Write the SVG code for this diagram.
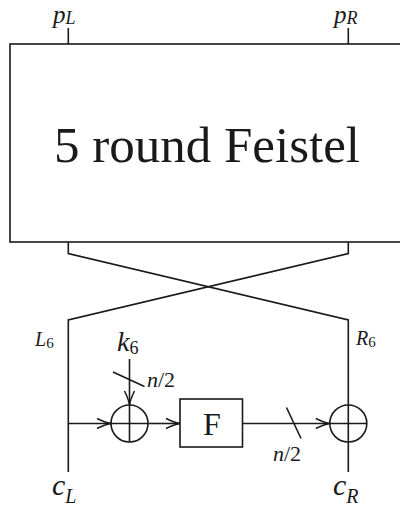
<svg xmlns="http://www.w3.org/2000/svg" width="400" height="508" viewBox="0 0 400 508">
<style>
.ln{stroke:#1a1a1a;stroke-width:1.6;fill:none;stroke-linecap:butt;stroke-linejoin:miter}
text{font-family:"Liberation Serif","Times New Roman","DejaVu Serif",serif;fill:#1a1a1a}
.mi{font-style:italic}
.up{font-style:normal}
</style>
<defs>
<marker id="ah" markerUnits="userSpaceOnUse" markerWidth="20" markerHeight="20" refX="0" refY="0" orient="auto" overflow="visible">
<path d="M -14 -5 Q -6 -1 0 0 Q -6 1 -14 5" fill="none" stroke="#1a1a1a" stroke-width="1.5"/>
</marker>
</defs>
<rect width="400" height="508" fill="#ffffff"/>
<g id="labels-top">
<text class="mi" x="53" y="22.5" font-size="25">p<tspan font-size="18" dy="1">L</tspan></text>
<text class="mi" x="334" y="22.5" font-size="25">p<tspan font-size="18" dy="1">R</tspan></text>
</g>
<g id="feistel">
<rect class="ln" x="10" y="44" width="396" height="198"/>
<text x="207" y="162" font-size="51" text-anchor="middle">5 round Feistel</text>
</g>
<g id="F">
<rect class="ln" x="180" y="399" width="62.5" height="48"/>
<text x="212" y="435" font-size="32" text-anchor="middle">F</text>
</g>
<g id="xorL">
<circle class="ln" cx="129.5" cy="423.5" r="18.5"/>
</g>
<g id="xorR">
<circle class="ln" cx="348.3" cy="423.5" r="18.5"/>
</g>
<g id="connectors">
<line class="ln" x1="68.3" y1="28" x2="68.3" y2="44"/>
<line class="ln" x1="348.3" y1="28" x2="348.3" y2="44"/>
<polyline class="ln" points="68.3,242 68.3,253.5 348.3,320 348.3,472"/>
<polyline class="ln" points="348.3,242 348.3,253.5 68.3,320 68.3,472"/>
<line class="ln" x1="68.3" y1="423.5" x2="111" y2="423.5" marker-end="url(#ah)"/>
<line class="ln" x1="111" y1="423.5" x2="148" y2="423.5"/>
<line class="ln" x1="148" y1="423.5" x2="180" y2="423.5" marker-end="url(#ah)"/>
<line class="ln" x1="242.5" y1="423.5" x2="329.8" y2="423.5" marker-end="url(#ah)"/>
<line class="ln" x1="329.8" y1="423.5" x2="366.8" y2="423.5"/>
<line class="ln" x1="129.5" y1="359" x2="129.5" y2="405" marker-end="url(#ah)"/>
<line class="ln" x1="129.5" y1="405" x2="129.5" y2="442"/>
<line class="ln" x1="113" y1="372" x2="144.5" y2="386.5"/>
<line class="ln" x1="286.5" y1="407.5" x2="301" y2="438.5"/>
</g>
<g id="labels">
<text class="mi" x="35" y="346" font-size="20">L<tspan class="up" font-size="15" dy="2">6</tspan></text>
<text class="mi" x="356" y="345" font-size="20">R<tspan class="up" font-size="15" dy="2">6</tspan></text>
<text class="mi" x="117" y="351" font-size="28">k<tspan class="up" font-size="18" dy="3">6</tspan></text>
<text class="mi" x="147" y="387" font-size="22">n<tspan class="up">/2</tspan></text>
<text class="mi" x="273" y="461" font-size="22">n<tspan class="up">/2</tspan></text>
<text class="mi" x="52" y="495" font-size="30">c<tspan font-size="20" dy="8">L</tspan></text>
<text class="mi" x="333" y="495" font-size="30">c<tspan font-size="20" dy="8">R</tspan></text>
</g>
</svg>
